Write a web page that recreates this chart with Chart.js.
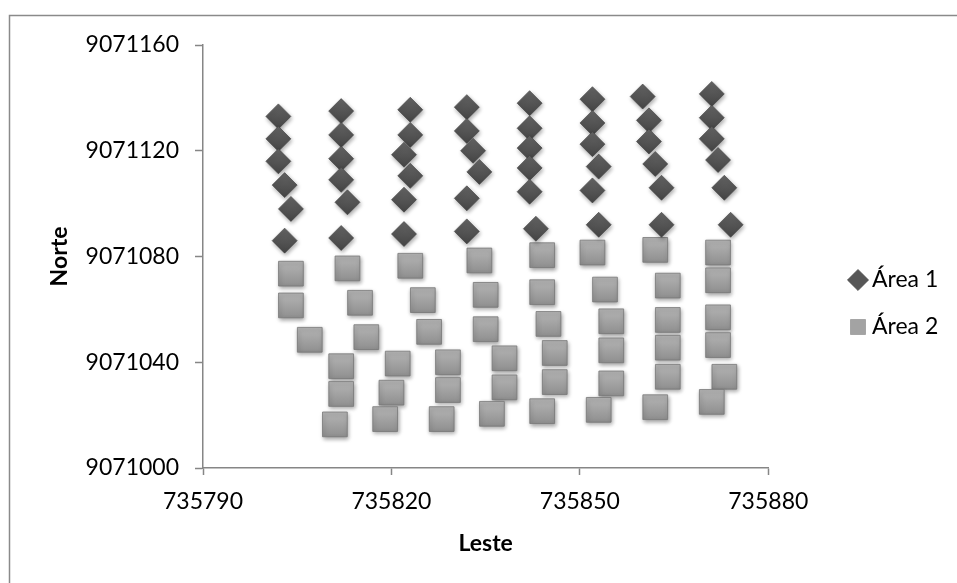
<!DOCTYPE html>
<html>
<head>
<meta charset="utf-8">
<script src="https://cdn.jsdelivr.net/npm/chart.js@4.4.1/dist/chart.umd.min.js"></script>
<style>
html, body { margin: 0; padding: 0; background: #ffffff; }
#wrap { position: relative; width: 957px; height: 583px; overflow: hidden; }
canvas { display: block; }
</style>
</head>
<body>
<div id="wrap"><canvas id="c" width="957" height="583"></canvas></div>
<script>
// ---- data ----
const seriesNames = ['Área 1', 'Área 2'];
const xTitle = 'Leste';
const yTitle = 'Norte';
const xTicks = [735790, 735820, 735850, 735880];
const yTicks = [9071000, 9071040, 9071080, 9071120, 9071160];

const area1Leste = [
  735802, 735802, 735802, 735803, 735804, 735803,
  735812, 735812, 735812, 735812, 735813, 735812,
  735823, 735823, 735822, 735823, 735822, 735822,
  735832, 735832, 735833, 735834, 735832, 735832,
  735842, 735842, 735842, 735842, 735842, 735843,
  735852, 735852, 735852, 735853, 735852, 735853,
  735860, 735861, 735861, 735862, 735863, 735863,
  735871, 735871, 735871, 735872, 735873, 735874
];
const area1Norte = [
  9071133, 9071124.5, 9071116, 9071107, 9071098, 9071086,
  9071135, 9071126, 9071117, 9071109, 9071100.5, 9071087,
  9071135.5, 9071126, 9071118.5, 9071110.5, 9071101.5, 9071088.5,
  9071136.5, 9071127.5, 9071120, 9071112, 9071102, 9071089.5,
  9071138, 9071128.5, 9071121, 9071113.5, 9071104.5, 9071090.5,
  9071139.5, 9071130.5, 9071122.5, 9071114, 9071105, 9071092,
  9071140.5, 9071131.5, 9071123.5, 9071115, 9071106, 9071092,
  9071141.5, 9071132.5, 9071124.5, 9071116.5, 9071106, 9071092
];
const area2Leste = [
  735804, 735804, 735807,
  735813, 735815, 735816,
  735812, 735812, 735811,
  735823, 735825, 735826,
  735821, 735820, 735819,
  735834, 735835, 735835,
  735829, 735829, 735828,
  735838, 735838, 735836,
  735844, 735844, 735845, 735846, 735846, 735844,
  735852, 735854, 735855, 735855, 735855, 735853,
  735862, 735864, 735864, 735864, 735864, 735862,
  735872, 735872, 735872, 735872, 735873, 735871
];
const area2Norte = [
  9071073.5, 9071061.5, 9071048.5,
  9071075.5, 9071062.5, 9071049.5,
  9071038.5, 9071028, 9071016.5,
  9071076.5, 9071063.5, 9071051.5,
  9071039.5, 9071028.5, 9071018.5,
  9071078.5, 9071065.5, 9071052.5,
  9071040, 9071029.5, 9071018.5,
  9071041.5, 9071030.5, 9071020.5,
  9071080.5, 9071066.5, 9071054.5, 9071043.5, 9071032.5, 9071021.5,
  9071081.5, 9071067.5, 9071055.5, 9071044.5, 9071032, 9071022,
  9071082.5, 9071069, 9071056, 9071045.5, 9071034.5, 9071023,
  9071081.5, 9071071, 9071057, 9071046.5, 9071034.5, 9071025
];

// ---- styling ----
const FONT = 'Lato, "Open Sans", "Liberation Sans", sans-serif';
const AXIS = '#868686';
const solidFill = ['#575757', '#a3a3a3'];
const solidStroke = ['#404040', '#8a8a8a'];

function pointGradient(top, bottom) {
  return function (ctx) {
    const chart = ctx.chart;
    const p = ctx.parsed;
    if (!p || !chart.scales || !chart.scales.y || !chart.chartArea) return top;
    const py = chart.scales.y.getPixelForValue(p.y);
    const g = chart.ctx.createLinearGradient(0, py - 12.5, 0, py + 12.5);
    g.addColorStop(0, top);
    g.addColorStop(1, bottom);
    return g;
  };
}

const frame = {
  id: 'frame',
  beforeDraw(chart) {
    const c = chart.ctx;
    c.save();
    c.strokeStyle = '#8a8a8a';
    c.lineWidth = 1.5;
    c.strokeRect(9.5, 15.5, 1200, 1200);
    c.restore();
  }
};

const shadow = {
  id: 'shadow',
  beforeDatasetsDraw(chart) {
    const c = chart.ctx;
    c.save();
    c.shadowColor = 'rgba(0,0,0,0.35)';
    c.shadowBlur = 4;
    c.shadowOffsetX = 1;
    c.shadowOffsetY = 2;
  },
  afterDatasetsDraw(chart) {
    chart.ctx.restore();
  }
};

const legendPlace = {
  id: 'legendPlace',
  afterLayout(chart) {
    const lg = chart.legend;
    if (!lg) return;
    const w = lg.width, h = lg.height;
    lg.left = 831.5; lg.right = lg.left + w;
    lg.top = 244.5; lg.bottom = lg.top + Math.max(h, 200);
  }
};

function build() {
  const d1 = area1Leste.map((x, i) => ({ x: x, y: area1Norte[i] }));
  const d2 = area2Leste.map((x, i) => ({ x: x, y: area2Norte[i] }));

  const chart = new Chart(document.getElementById('c'), {
    type: 'scatter',
    data: {
      datasets: [
        {
          label: seriesNames[0], data: d1,
          pointStyle: 'rectRot', pointRadius: 12.5, pointHoverRadius: 12.5,
          backgroundColor: pointGradient('#646464', '#454545'),
          borderColor: solidStroke[0], borderWidth: 0.6
        },
        {
          label: seriesNames[1], data: d2,
          pointStyle: 'rect', pointRadius: 17.5, pointHoverRadius: 17.5,
          backgroundColor: pointGradient('#b5b5b5', '#8f8f8f'),
          borderColor: 'rgba(120,120,120,0.8)', borderWidth: 1
        }
      ]
    },
    options: {
      responsive: false,
      animation: false,
      events: [],
      layout: { padding: { left: 0, top: 45, right: 80, bottom: 0 } },
      plugins: {
        tooltip: { enabled: false },
        legend: {
          position: 'right', align: 'start',
          labels: {
            usePointStyle: true, boxWidth: 5, boxHeight: 15, padding: 24,
            color: '#000000', font: { family: FONT, size: 23 },
            generateLabels(ch) {
              return Chart.defaults.plugins.legend.labels.generateLabels(ch).map((l) => {
                l.fillStyle = solidFill[l.datasetIndex];
                l.strokeStyle = solidStroke[l.datasetIndex];
                l.lineWidth = 0.6;
                return l;
              });
            }
          }
        }
      },
      scales: {
        x: {
          type: 'linear', position: 'bottom',
          min: xTicks[0], max: xTicks[xTicks.length - 1],
          afterBuildTicks(s) { s.ticks = xTicks.map((v) => ({ value: v })); },
          afterFit(s) { s.height = 115; },
          ticks: {
            callback: (v) => String(v), color: '#000000',
            font: { family: FONT, size: 23 }, padding: 13, maxRotation: 0, autoSkip: false
          },
          grid: { drawOnChartArea: false, drawTicks: true, tickLength: 7, tickColor: AXIS, tickWidth: 1.5 },
          border: { display: true, color: AXIS, width: 1.5 },
          title: {
            display: true, text: xTitle, color: '#000000',
            font: { family: FONT, size: 23, weight: 'bold' }, padding: { top: 0, bottom: 26 }
          }
        },
        y: {
          type: 'linear', position: 'left',
          min: yTicks[0], max: yTicks[yTicks.length - 1],
          afterBuildTicks(s) { s.ticks = yTicks.map((v) => ({ value: v })); },
          afterFit(s) { s.width = 203; },
          ticks: {
            callback: (v) => String(v), color: '#000000',
            font: { family: FONT, size: 23 }, padding: 16, autoSkip: false
          },
          grid: { drawOnChartArea: false, drawTicks: true, tickLength: 8, tickColor: AXIS, tickWidth: 1.5 },
          border: { display: true, color: AXIS, width: 1.5 },
          title: {
            display: true, text: yTitle, color: '#000000',
            font: { family: FONT, size: 23, weight: 'bold' }, padding: { top: 46, bottom: 0 }
          }
        }
      }
    },
    plugins: [frame, shadow, legendPlace]
  });

  const dR = chart.chartArea.right - 768.3;
  if (Math.abs(dR) > 0.2) {
    chart.options.layout.padding.right = Math.max(0, chart.options.layout.padding.right + dR);
    chart.update();
  }
}

if (document.fonts && document.fonts.load) {
  Promise.all([
    document.fonts.load('23px Lato'),
    document.fonts.load('bold 23px Lato')
  ]).then(build, build);
} else {
  build();
}
</script>
</body>
</html>
